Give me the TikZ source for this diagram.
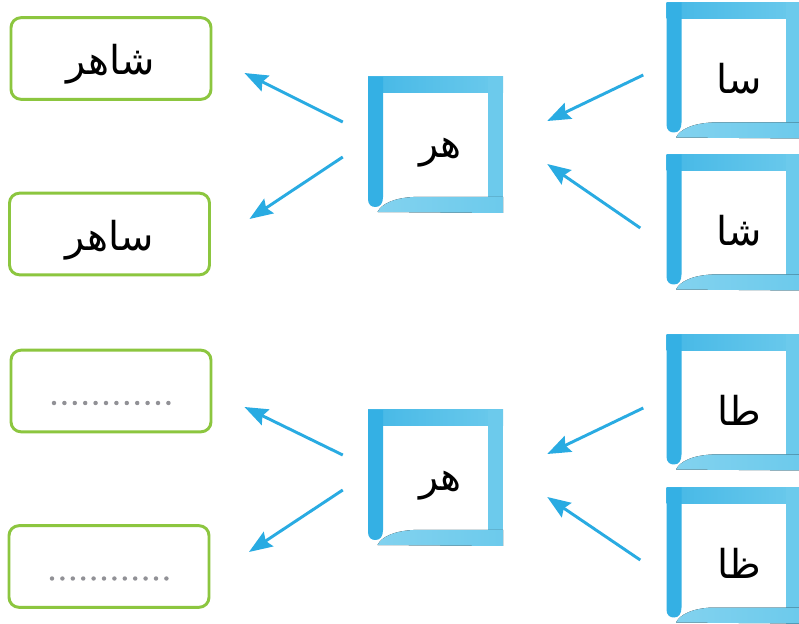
\documentclass[tikz,border=0pt]{standalone}
\usepackage{fontspec}
\newfontfamily\arabicfont[Script=Arabic]{DejaVu Sans}
\TeXXeTstate=1
\usetikzlibrary{arrows.meta, calc}
\definecolor{boxgreen}{RGB}{140,198,63}
\definecolor{arrowblue}{RGB}{41,171,226}
\definecolor{tilelight}{RGB}{108,202,236}
\definecolor{tiledark}{RGB}{52,176,228}
\definecolor{dotgray}{RGB}{145,145,150}
\tikzset{
    wordbox/.style={draw=boxgreen, line width=2.5pt, rounded corners=0.3cm,
        minimum width=6.0cm, minimum height=2.45cm, inner sep=0pt,
        font=\fontsize{34}{40}\selectfont},
    tile/.style={minimum width=4.05cm, minimum height=4.05cm, inner sep=0pt,
        font=\fontsize{34}{40}\selectfont},
    arr/.style={-{Stealth[length=7mm, width=5.2mm, inset=1mm]}, line width=2.5pt, arrowblue}
}
% painted square: name, x, y, letters
\newcommand{\painttile}[4]{%
    \begin{scope}[shift={(#2,#3)}]
        \fill[left color=tiledark!70!tilelight, right color=tilelight] (-67.5,-68) rectangle (67.5,-52);
        \fill[tilelight] (52,-68) rectangle (67.5,68);
        \fill[left color=tilelight!85!white, right color=tilelight] (67.5,52) -- (-22,52)
            .. controls (-42,53) and (-54,59) .. (-58,67) -- (67.5,68) -- cycle;
        \fill[tiledark] (-67.5,-68) -- (-67.5,54) .. controls (-67.5,60) and (-64,62) .. (-60,62)
            .. controls (-55,62) and (-52.5,58) .. (-52.5,52) -- (-52.5,-52) -- (-52.5,-68) -- cycle;
    \end{scope}
    \node[tile] (#1) at (#2,#3) {};
    \node at ([shift={(5,8)}]#1.center) {\fontsize{34}{40}\selectfont\arabicfont\beginR #4\endR};
}

\begin{document}
\begin{tikzpicture}[x=0.03cm, y=-0.03cm]
    \fill[white] (0,0) rectangle (799,624);
    \useasboundingbox (0,0) rectangle (799,624);

    % words on the left
    \node[wordbox] (w1) at (111,58.5) {};
    \node[wordbox] (w2) at (109.5,234) {};
    \node[wordbox] (w3) at (111,391) {};
    \node[wordbox] (w4) at (109,566.5) {};
    \node[font=\fontsize{34}{40}\selectfont] (t1) at ([shift={(0,6)}]w1.center) {\arabicfont\beginR شاهر\endR};
    \node[font=\fontsize{34}{40}\selectfont] (t2) at ([shift={(0,6)}]w2.center) {\arabicfont\beginR ساهر\endR};
    \foreach \k in {0,...,11}{
        \fill[dotgray] ($(w3.center)+(-57+\k*10.4,12)$) circle (1.9pt);
        \fill[dotgray] ($(w4.center)+(-57+\k*10.4,12)$) circle (1.9pt);
    }

    % middle squares
    \painttile{hr1}{435.5}{145}{هر}
    \painttile{hr2}{435.5}{478}{هر}

    % right squares
    \painttile{sa}{734}{70.5}{سا}
    \painttile{sha}{734}{222.5}{شا}
    \painttile{ta}{734}{402.5}{طا}
    \painttile{za}{734}{555.5}{ظا}

    % arrows
    \draw[arr] ([shift={(-23,4.5)}]sa.west) -- ([shift={(44,-24)}]hr1.east);
    \draw[arr] ([shift={(-26,5.5)}]sha.west) -- ([shift={(44,19)}]hr1.east);
    \draw[arr] ([shift={(-25,-23)}]hr1.west) -- ([shift={(32,14.5)}]w1.east);
    \draw[arr] ([shift={(-25,12)}]hr1.west) -- ([shift={(38.5,-15)}]w2.east);

    \draw[arr] ([shift={(-23,5.5)}]ta.west) -- ([shift={(44,-24)}]hr2.east);
    \draw[arr] ([shift={(-26,4.5)}]za.west) -- ([shift={(44,19)}]hr2.east);
    \draw[arr] ([shift={(-25,-23)}]hr2.west) -- ([shift={(32,16)}]w3.east);
    \draw[arr] ([shift={(-25,12)}]hr2.west) -- ([shift={(38.5,-14.5)}]w4.east);
\end{tikzpicture}
\end{document}
